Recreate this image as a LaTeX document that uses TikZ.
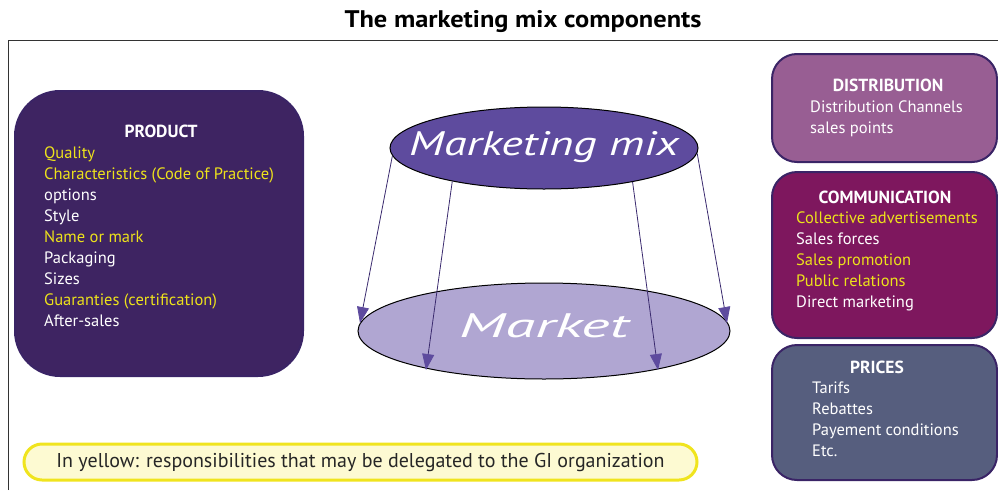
\documentclass[tikz,border=0pt]{standalone}
\usepackage{fontspec}
\setmainfont{PT Sans}
\usepackage{xcolor}
\usetikzlibrary{shapes.geometric,arrows.meta}

\definecolor{prodc}{HTML}{3E2462}
\definecolor{mixc}{HTML}{5E4B9E}
\definecolor{marketc}{HTML}{B0A6D2}
\definecolor{distc}{HTML}{985E93}
\definecolor{commc}{HTML}{7E175E}
\definecolor{pricec}{HTML}{565E7E}
\definecolor{bordc}{HTML}{3A2466}
\definecolor{arrc}{HTML}{3A2A6E}
\definecolor{yel}{HTML}{EDE21B}
\definecolor{notefill}{HTML}{FDFAD2}
\definecolor{noteborder}{HTML}{F0E41E}

\begin{document}
\begin{tikzpicture}[x=1pt,y=-1pt,
  box/.style={draw=bordc,line width=2pt,rounded corners=25pt,inner sep=0pt},
  head/.style={text=white,inner sep=0pt,font=\fontsize{17.5}{20}\selectfont\bfseries},
  items/.style={anchor=north west,align=left,inner sep=0pt,text=white,font=\fontsize{16.5}{21}\selectfont},
  flow/.style={draw=arrc,line width=0.8pt,-{Triangle[length=16pt,width=12pt,color=mixc]}}]
\useasboundingbox (0,0) rectangle (998,490);

% title and frame
\node[font=\fontsize{24}{28}\selectfont\bfseries] (title) at (523,22) {\scalebox{1.1}[1]{The marketing mix components}};
\draw[black!80,line width=1pt] (8,490) -- (8,40) -- (998,40);

% product
\node[box,fill=prodc,rounded corners=45pt,minimum width=288pt,minimum height=285pt] (product) at (159,233.5) {};
\node[head] (producth) at (161,131) {PRODUCT};
\node[items] (productl) at (44,143.3) {\strut\color{yel}Quality\\
  \color{yel}Characteristics (Code of Practice)\\
  options\\
  Style\\
  \color{yel}Name or mark\\
  Packaging\\
  Sizes\\
  \color{yel}Guaranties (certification)\\
  After-sales};

% mix and market
\node[ellipse,draw=black,line width=1pt,fill=marketc,minimum width=372pt,minimum height=96pt,inner sep=0pt] (market) at (544,331)
  {\makebox[0pt]{\raisebox{11pt}{\scalebox{1.8}[1]{\color{white}\fontsize{34}{34}\selectfont\itshape Market}}}};
\node[ellipse,draw=black,line width=1pt,fill=mixc,minimum width=308pt,minimum height=82pt,inner sep=0pt] (mix) at (544,148)
  {\makebox[0pt]{\raisebox{10pt}{\scalebox{1.36}[1]{\color{white}\fontsize{34}{34}\selectfont\itshape Marketing mix}}}};

\coordinate (t1) at (360,323);
\coordinate (t2) at (426,370);
\coordinate (t3) at (658,370);
\coordinate (t4) at (727,323);
\draw[flow] (mix.183) -- (t1);
\draw[flow] (mix.200) -- (t2);
\draw[flow] (mix.339) -- (t3);
\draw[flow] (mix.358) -- (t4);

% right column
\node[box,fill=distc,minimum width=225pt,minimum height=108pt] (dist) at (884.5,108) {};
\node[head] (disth) at (888,85) {DISTRIBUTION};
\node[items] (distl) at (810,97.3) {\strut Distribution Channels\\sales points};

\node[box,fill=commc,minimum width=225pt,minimum height=166pt] (comm) at (884.5,255) {};
\node[head] (commh) at (885,197) {COMMUNICATION};
\node[items] (comml) at (796,208.3) {\strut\color{yel}Collective advertisements\\
  Sales forces\\
  \color{yel}Sales promotion\\
  \color{yel}Public relations\\
  Direct marketing};

\node[box,fill=pricec,minimum width=225pt,minimum height=135pt] (price) at (884.5,412.5) {};
\node[head] (priceh) at (877,367) {PRICES};
\node[items] (pricel) at (812,378.3) {\strut Tarifs\\Rebattes\\Payement conditions\\Etc.};

% note
\node[draw=noteborder,fill=notefill,line width=3pt,rounded corners=18pt,minimum width=673pt,minimum height=36pt,
  text=black!85,font=\fontsize{20}{24}\selectfont] (note) at (360.5,462)
  {In yellow: responsibilities that may be delegated to the GI organization};
\end{tikzpicture}
\end{document}
